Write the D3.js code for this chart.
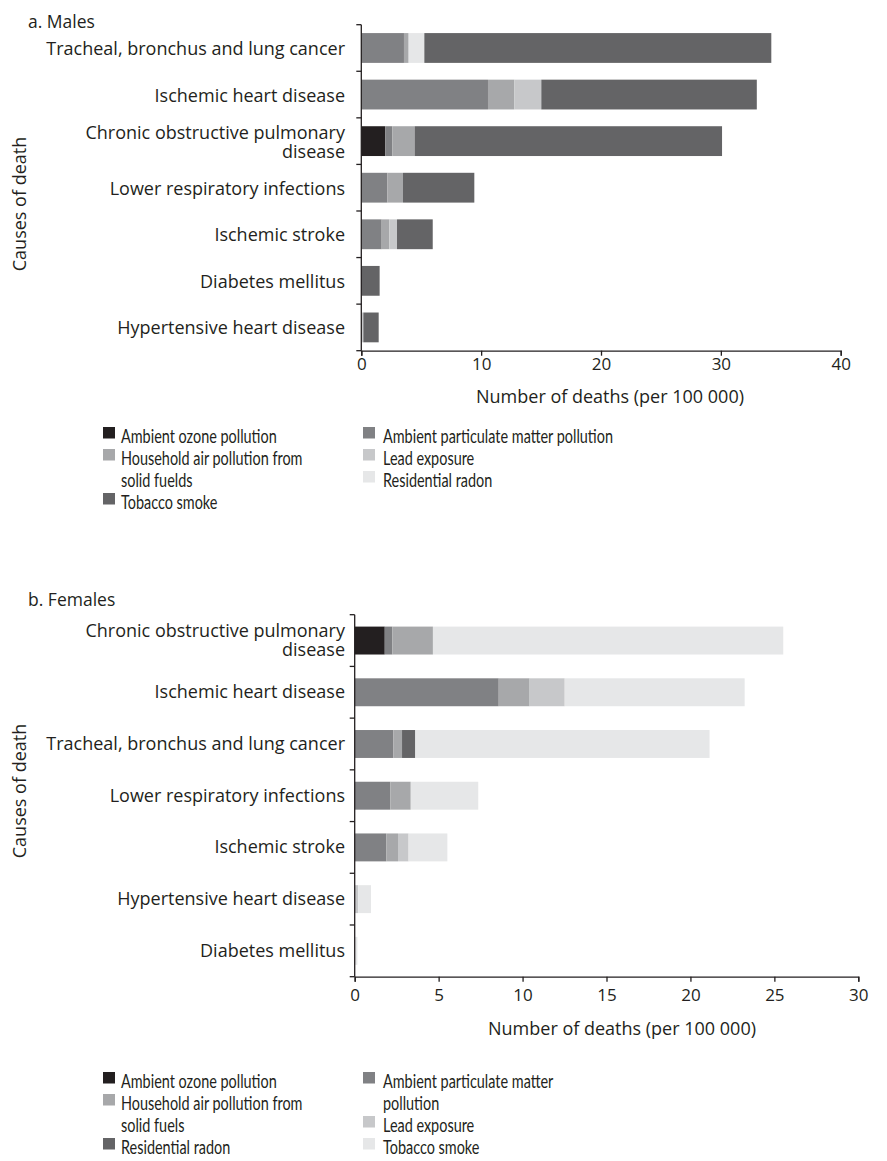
<!DOCTYPE html>
<html>
<head>
<meta charset="utf-8">
<script src="https://cdn.jsdelivr.net/npm/d3@7"></script>
<style>
body { margin: 0; background: #fff; }
text { font-family: "Open Sans", Lato, sans-serif; fill: #231f20; }
.axis path, .axis line { stroke: #231f20; stroke-width: 1.3; }
.legend text { font-family: Lato, sans-serif; }
</style>
</head>
<body>
<script>
// risk factors, in stacking order
var risks = ["ozone", "pm", "household", "lead", "radon", "tobacco"];

// a. Males (deaths per 100 000)
var maleCauses = ["Tracheal, bronchus and lung cancer", "Ischemic heart disease",
  "Chronic obstructive pulmonary|disease", "Lower respiratory infections",
  "Ischemic stroke", "Diabetes mellitus", "Hypertensive heart disease"];
var maleOzone     = [0,     0,     2.0,   0,    0,    0,    0];
var malePM        = [3.56,  10.57, 0.59,  2.17, 1.70, 0,    0];
var maleHousehold = [0.39,  2.20,  1.86,  1.31, 0.64, 0,    0];
var maleLead      = [0,     2.25,  0,     0,    0.64, 0,    0.17];
var maleRadon     = [1.31,  0,     0,     0,    0,    0,    0];
var maleTobacco   = [28.95, 17.98, 25.65, 5.95, 2.98, 1.53, 1.28];
var maleTicks = [0, 10, 20, 30, 40];

// b. Females (deaths per 100 000)
var femaleCauses = ["Chronic obstructive pulmonary|disease", "Ischemic heart disease",
  "Tracheal, bronchus and lung cancer", "Lower respiratory infections",
  "Ischemic stroke", "Hypertensive heart disease", "Diabetes mellitus"];
var femaleOzone     = [1.79,  0,     0,     0,    0,    0,    0];
var femalePM        = [0.45,  8.58,  2.30,  2.12, 1.88, 0,    0];
var femaleHousehold = [2.42,  1.84,  0.52,  1.22, 0.70, 0,    0];
var femaleLead      = [0,     2.09,  0,     0,    0.63, 0.21, 0];
var femaleRadon     = [0,     0,     0.79,  0,    0,    0,    0];
var femaleTobacco   = [20.87, 10.72, 17.53, 4.02, 2.31, 0.76, 0.16];
var femaleTicks = [0, 5, 10, 15, 20, 25, 30];

// legend texts
var maleNames = {
  ozone: "Ambient ozone pollution", household: "Household air pollution from|solid fuelds",
  tobacco: "Tobacco smoke", pm: "Ambient particulate matter pollution",
  lead: "Lead exposure", radon: "Residential radon"
};
var femaleNames = {
  ozone: "Ambient ozone pollution", household: "Household air pollution from|solid fuels",
  radon: "Residential radon", pm: "Ambient particulate matter|pollution",
  lead: "Lead exposure", tobacco: "Tobacco smoke"
};
var maleLegendCols = [["ozone", "household", "tobacco"], ["pm", "lead", "radon"]];
var femaleLegendCols = [["ozone", "household", "radon"], ["pm", "lead", "tobacco"]];

var maleColors = {ozone: "#231f20", pm: "#808184", household: "#a7a8aa",
  lead: "#c7c8ca", radon: "#e6e7e8", tobacco: "#646466"};
var femaleColors = {ozone: "#231f20", pm: "#808184", household: "#a7a8aa",
  lead: "#c7c8ca", radon: "#646466", tobacco: "#e6e7e8"};

var svg = d3.select("body").append("svg")
  .attr("width", 887)
  .attr("height", 1161);

function makeRows(causes, cols) {
  return causes.map(function(c, i) {
    var r = {cause: c};
    risks.forEach(function(k, j) { r[k] = cols[j][i]; });
    return r;
  });
}

function drawPanel(o) {
  var x = d3.scaleLinear().domain([0, o.max]).range([o.x0, o.x1]);
  var y = d3.scaleBand().domain(o.causes).range([o.y0, o.y1])
    .paddingInner(o.pad).paddingOuter(o.pad / 2);

  svg.append("text")
    .attr("x", 28).attr("y", o.titleY)
    .style("font-size", "17.5px")
    .text(o.title);

  var stacked = d3.stack().keys(risks)(o.rows);
  svg.append("g").selectAll("g")
    .data(stacked)
    .enter().append("g")
    .attr("fill", function(d) { return o.colors[d.key]; })
    .selectAll("rect")
    .data(function(d) { return d.filter(function(p) { return p[1] - p[0] > 0; }); })
    .enter().append("rect")
    .attr("x", function(d) { return x(d[0]); })
    .attr("y", function(d) { return y(d.data.cause); })
    .attr("width", function(d) { return x(d[1]) - x(d[0]); })
    .attr("height", y.bandwidth());

  // x axis
  var xa = svg.append("g")
    .attr("class", "axis")
    .attr("transform", "translate(0," + o.y1 + ")")
    .call(d3.axisBottom(x).tickValues(o.ticks).tickSize(5).tickSizeOuter(5).tickPadding(o.tickPad));
  xa.selectAll("text").style("font-size", "17px").style("font-family", "Open Sans").attr("fill", "#231f20");

  // y axis with ticks at category boundaries
  var half = y.step() * y.paddingInner() / 2;
  var bounds = o.causes.map(function(c) { return y(c) - half; }).concat([o.y1]);
  var ya = svg.append("g").attr("class", "axis");
  ya.append("line")
    .attr("x1", x(0)).attr("x2", x(0))
    .attr("y1", o.y0).attr("y2", o.y1);
  ya.selectAll(".tk").data(bounds).enter().append("line")
    .attr("x1", x(0) - 5).attr("x2", x(0))
    .attr("y1", function(d) { return d; })
    .attr("y2", function(d) { return d; });

  // category labels
  svg.append("g").selectAll("text")
    .data(o.causes)
    .enter().append("text")
    .attr("text-anchor", "end")
    .style("font-size", "18px")
    .each(function(c) {
      var lines = c.split("|");
      var cy = y(c) + y.bandwidth() / 2 + o.labelDy - (lines.length - 1) * 9.5;
      var t = d3.select(this);
      lines.forEach(function(l, i) {
        t.append("tspan").attr("x", 345).attr("y", cy + i * 19).text(l);
      });
    });

  svg.append("text")
    .attr("transform", "translate(26," + o.yTitleY + ") rotate(-90)")
    .attr("text-anchor", "middle")
    .style("font-size", "18px")
    .text("Causes of death");

  svg.append("text")
    .attr("x", o.xTitleX).attr("y", o.xTitleY)
    .attr("text-anchor", "middle")
    .style("font-size", "18px")
    .text("Number of deaths (per 100 000)");

  // legend (condensed lettering)
  var colX = [[103, 121], [363, 383]];
  var lg = svg.append("g").attr("class", "legend");
  o.legendCols.forEach(function(keys, ci) {
    var line = 0;
    keys.forEach(function(k) {
      var base = o.legendY + line * 22;
      lg.append("rect")
        .attr("x", colX[ci][0]).attr("y", base - 16)
        .attr("width", 12).attr("height", 11.5)
        .attr("fill", o.colors[k]);
      var lines = o.names[k].split("|");
      var t = lg.append("text")
        .attr("transform", "translate(" + colX[ci][1] + "," + base + ") scale(0.78,1)")
        .style("font-size", "18.5px");
      lines.forEach(function(l, i) {
        t.append("tspan").attr("x", 0).attr("y", i * 22).text(l);
      });
      line += lines.length;
    });
  });
}

drawPanel({
  title: "a. Males", titleY: 27.5,
  causes: maleCauses,
  rows: makeRows(maleCauses, [maleOzone, malePM, maleHousehold, maleLead, maleRadon, maleTobacco]),
  colors: maleColors, names: maleNames, legendCols: maleLegendCols,
  max: 40, ticks: maleTicks,
  x0: 361.3, x1: 840.7, y0: 24.7, y1: 350.7, pad: 0.36,
  tickPad: 2, labelDy: 7,
  yTitleY: 204, xTitleX: 610, xTitleY: 403,
  legendY: 443
});

drawPanel({
  title: "b. Females", titleY: 606,
  causes: femaleCauses,
  rows: makeRows(femaleCauses, [femaleOzone, femalePM, femaleHousehold, femaleLead, femaleRadon, femaleTobacco]),
  colors: femaleColors, names: femaleNames, legendCols: femaleLegendCols,
  max: 30, ticks: femaleTicks,
  x0: 354.7, x1: 858.3, y0: 614.7, y1: 976.7, pad: 0.46,
  tickPad: 7, labelDy: 6,
  yTitleY: 791, xTitleX: 622, xTitleY: 1035,
  legendY: 1088
});
</script>
</body>
</html>
